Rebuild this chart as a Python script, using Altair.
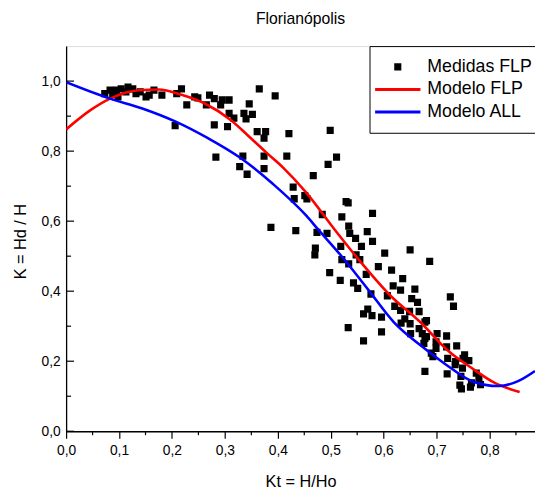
import altair as alt
import pandas as pd

# ---------------- data ----------------
SERIES = ["Medidas FLP", "Modelo FLP", "Modelo ALL"]
COLORS = ["#000000", "#ff0000", "#0000ff"]

kt_meas = [
    0.073, 0.083, 0.095, 0.104, 0.117, 0.126, 0.132, 0.151, 0.157, 0.166,
    0.181, 0.209, 0.218, 0.228, 0.243, 0.249, 0.271, 0.280, 0.295, 0.292,
    0.265, 0.280, 0.206, 0.283, 0.098, 0.140, 0.113, 0.088,
    0.308, 0.365, 0.395, 0.346, 0.308, 0.317, 0.336, 0.340, 0.352, 0.305,
    0.361, 0.377, 0.374, 0.421, 0.499, 0.374, 0.334, 0.328, 0.374, 0.342,
    0.417, 0.511, 0.495, 0.467, 0.429, 0.431, 0.451, 0.455, 0.529, 0.533,
    0.484, 0.521, 0.579, 0.387, 0.434, 0.474, 0.493, 0.534, 0.536, 0.547,
    0.569, 0.471, 0.519, 0.558, 0.579,
    0.470, 0.548, 0.555, 0.602, 0.650, 0.687, 0.521, 0.534, 0.590, 0.615,
    0.498, 0.567, 0.636, 0.518, 0.543, 0.551, 0.618, 0.632, 0.659, 0.576,
    0.607, 0.653, 0.664, 0.726, 0.732, 0.621, 0.632, 0.649, 0.667, 0.570,
    0.562, 0.578, 0.596, 0.533, 0.596, 0.562, 0.633, 0.640, 0.650, 0.651,
    0.667, 0.678, 0.681, 0.673, 0.678, 0.676, 0.681, 0.701, 0.719, 0.699,
    0.699, 0.690, 0.693, 0.719, 0.738, 0.721, 0.736, 0.753, 0.750, 0.761,
    0.735, 0.749, 0.678, 0.720, 0.746, 0.775, 0.780, 0.783, 0.764, 0.744,
    0.747, 0.766,
]
k_meas = [
    0.964, 0.974, 0.974, 0.978, 0.983, 0.978, 0.964, 0.955, 0.960, 0.974,
    0.960, 0.964, 0.978, 0.932, 0.955, 0.952, 0.960, 0.950, 0.946, 0.932,
    0.932, 0.875, 0.873, 0.783, 0.955, 0.969, 0.969, 0.962,
    0.946, 0.978, 0.958, 0.935, 0.908, 0.894, 0.908, 0.892, 0.905, 0.870,
    0.856, 0.856, 0.837, 0.850, 0.859, 0.786, 0.786, 0.756, 0.750, 0.734,
    0.786, 0.783, 0.762, 0.730, 0.697, 0.664, 0.673, 0.664, 0.656, 0.652,
    0.619, 0.612, 0.622, 0.582, 0.573, 0.568, 0.565, 0.586, 0.565, 0.551,
    0.570, 0.523, 0.528, 0.528, 0.542,
    0.504, 0.504, 0.490, 0.509, 0.518, 0.485, 0.490, 0.478, 0.470, 0.460,
    0.453, 0.448, 0.436, 0.431, 0.424, 0.408, 0.415, 0.403, 0.406, 0.392,
    0.387, 0.379, 0.368, 0.384, 0.357, 0.357, 0.345, 0.342, 0.342, 0.349,
    0.335, 0.330, 0.326, 0.296, 0.284, 0.258, 0.309, 0.321, 0.307, 0.279,
    0.293, 0.312, 0.316, 0.279, 0.265, 0.251, 0.270, 0.279, 0.272, 0.255,
    0.237, 0.223, 0.213, 0.241, 0.244, 0.208, 0.199, 0.218, 0.208, 0.202,
    0.190, 0.180, 0.171, 0.164, 0.157, 0.166, 0.152, 0.133, 0.126, 0.132,
    0.121, 0.138,
]

kt_flp = [0.0, 0.046, 0.083, 0.138, 0.175, 0.218, 0.262, 0.311, 0.342, 0.379,
          0.410, 0.453, 0.508, 0.558, 0.613, 0.669, 0.724, 0.767, 0.810, 0.857]
k_flp = [0.862, 0.917, 0.950, 0.974, 0.976, 0.961, 0.936, 0.889, 0.847, 0.795,
         0.753, 0.683, 0.575, 0.481, 0.387, 0.312, 0.227, 0.180, 0.138, 0.112]

kt_all = [0.0, 0.083, 0.144, 0.206, 0.268, 0.329, 0.391, 0.453, 0.477, 0.521,
          0.570, 0.619, 0.669, 0.718, 0.767, 0.817, 0.854, 0.886]
k_all = [0.997, 0.950, 0.922, 0.885, 0.837, 0.781, 0.706, 0.617, 0.575, 0.499,
         0.406, 0.312, 0.246, 0.190, 0.143, 0.129, 0.143, 0.172]

x_ticks = [0.0, 0.1, 0.2, 0.3, 0.4, 0.5, 0.6, 0.7, 0.8]
x_minor = [0.05, 0.15, 0.25, 0.35, 0.45, 0.55, 0.65, 0.75, 0.85]
y_ticks = [0.0, 0.2, 0.4, 0.6, 0.8, 1.0]
y_minor = [0.1, 0.3, 0.5, 0.7, 0.9]

# ---------------- tables ----------------
pts = pd.DataFrame({"kt": kt_meas, "k": k_meas, "serie": SERIES[0]})
lines = pd.concat([
    pd.DataFrame({"kt": kt_flp, "k": k_flp, "serie": SERIES[1], "o": range(len(kt_flp))}),
    pd.DataFrame({"kt": kt_all, "k": k_all, "serie": SERIES[2], "o": range(len(kt_all))}),
])
xminor_df = pd.DataFrame({"v": x_minor})
ymajor_df = pd.DataFrame({"v": y_ticks})
yminor_df = pd.DataFrame({"v": y_minor})

W, H = 476, 391
FONT = "Liberation Sans"
LABEL_EXPR = "replace(format(datum.value, '.1f'), '.', ',')"

xscale = alt.Scale(domain=[0, 0.886], nice=False, zero=False)
yscale = alt.Scale(domain=[0, 1.1], nice=False, zero=False)

# square drawn as three thick strokes (so it renders solid with a stroke colour)
SQUARE = "M-0.9,-0.55H0.9M-0.9,0H0.9M-0.9,0.55H0.9"
LINE = "M-5.75,0H5.75"


def make_legend():
    return alt.Legend(
        title=None,
        orient="none",
        legendX=308,
        legendY=0,
        fillColor="white",
        strokeColor="black",
        padding=12,
        labelFont=FONT,
        labelFontSize=18,
        labelColor="black",
        labelOffset=21,
        labelLimit=400,
        symbolSize=64,
        symbolOffset=7.7,
        symbolStrokeWidth=3,
        symbolOpacity=1,
        rowPadding=5,
    )


color_enc = alt.Color(
    "serie:N",
    scale=alt.Scale(domain=SERIES, range=COLORS),
    legend=make_legend(),
)
shape_enc = alt.Shape(
    "serie:N",
    scale=alt.Scale(domain=SERIES, range=[SQUARE, LINE, LINE]),
    legend=make_legend(),
)

x_axis = alt.Axis(
    values=x_ticks,
    labelExpr=LABEL_EXPR,
    labelFlush=False,
    title="Kt = H/Ho",
    titleFont=FONT,
    titleFontSize=16.5,
    titleFontWeight="normal",
    titleColor="black",
    titleBaseline="alphabetic",
    titleY=56,
    labelFont=FONT,
    labelFontSize=14,
    labelColor="black",
    labelPadding=6,
    tickSize=7,
    tickColor="black",
    tickWidth=1.2,
    domainColor="black",
    domainWidth=1.3,
    grid=False,
)
y_axis = alt.Axis(
    values=y_ticks,
    labelExpr=LABEL_EXPR,
    labelFlush=False,
    title="K = Hd / H",
    titleFont=FONT,
    titleFontSize=16.5,
    titleFontWeight="normal",
    titleColor="black",
    titleBaseline="middle",
    titleAlign="center",
    titleAngle=270,
    titleX=-46,
    titleY=198,
    labelFont=FONT,
    labelFontSize=14,
    labelColor="black",
    labelPadding=6,
    ticks=False,
    tickSize=0,
    domainColor="black",
    domainWidth=1.3,
    grid=False,
)

points = alt.Chart(pts).mark_point(filled=False, size=64, strokeWidth=3, opacity=1).encode(
    x=alt.X("kt:Q", scale=xscale, axis=x_axis),
    y=alt.Y("k:Q", scale=yscale, axis=y_axis),
    color=color_enc,
    shape=shape_enc,
)

curves = alt.Chart(lines).mark_line(strokeWidth=2.6, interpolate="monotone", clip=True).encode(
    x=alt.X("kt:Q", scale=xscale),
    y=alt.Y("k:Q", scale=yscale),
    color=alt.Color("serie:N"),
    detail="serie:N",
    order="o:Q",
)

xminor_rules = alt.Chart(xminor_df).mark_rule(color="black", strokeWidth=1.2).encode(
    x=alt.X("v:Q", scale=xscale),
    y=alt.value(H),
    y2=alt.value(H + 4),
)
ymajor_rules = alt.Chart(ymajor_df).mark_rule(color="black", strokeWidth=1.2).encode(
    y=alt.Y("v:Q", scale=yscale),
    x=alt.value(0),
    x2=alt.value(8),
)
yminor_rules = alt.Chart(yminor_df).mark_rule(color="black", strokeWidth=1.2).encode(
    y=alt.Y("v:Q", scale=yscale),
    x=alt.value(0),
    x2=alt.value(5),
)

chart = alt.layer(points, curves, xminor_rules, ymajor_rules, yminor_rules).properties(
    width=W,
    height=H,
    title=alt.TitleParams(
        "Florianópolis",
        font=FONT,
        fontSize=16,
        fontWeight="normal",
        color="black",
        baseline="alphabetic",
        offset=6,
    ),
    autosize=alt.AutoSizeParams(type="none"),
    padding={"left": 59, "top": 35, "right": 0, "bottom": 58},
).configure_view(
    stroke="black",
    strokeWidth=1.3,
).configure(background="white")

chart.save("out.html", embed_options={"renderer": "svg", "actions": False})
